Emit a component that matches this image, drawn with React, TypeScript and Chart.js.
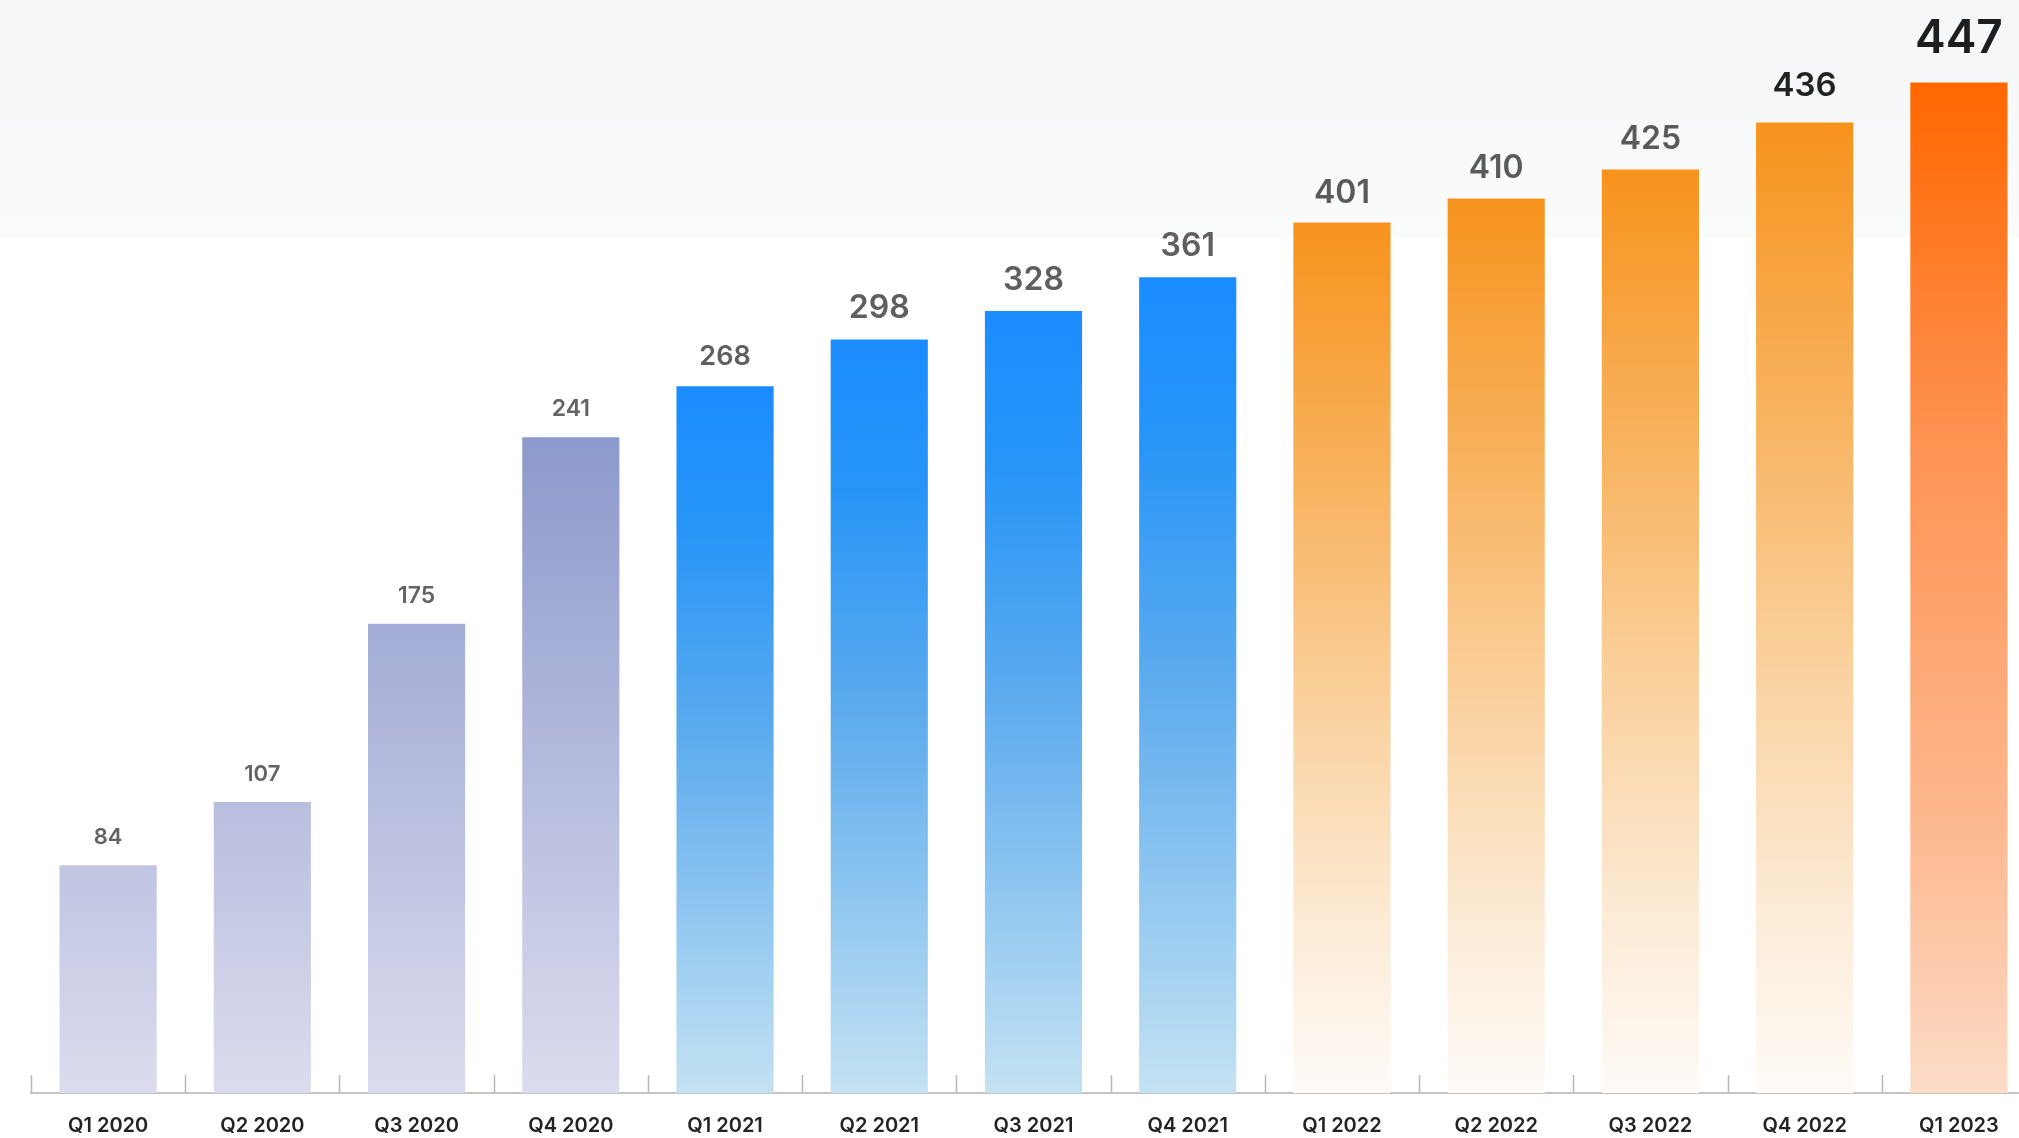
import React, { useEffect, useRef } from "react";
import { Chart, registerables } from "chart.js";

Chart.register(...registerables);

// ---------- data ----------
const categories = [
  "Q1 2020", "Q2 2020", "Q3 2020", "Q4 2020",
  "Q1 2021", "Q2 2021", "Q3 2021", "Q4 2021",
  "Q1 2022", "Q2 2022", "Q3 2022", "Q4 2022",
  "Q1 2023",
];
// numbers printed above the bars
const reportedValues = [84, 107, 175, 241, 268, 298, 328, 361, 401, 410, 425, 436, 447];
// bar heights as drawn in the picture (the picture's bars are not proportional to the printed numbers)
const barHeights = [100.8, 128.7, 207.6, 290.1, 312.7, 333.4, 345.9, 360.9, 385.1, 395.7, 408.5, 429.3, 447];
// colour group of each bar
const colourGroups = [
  "lavender", "lavender", "lavender", "lavender",
  "blue", "blue", "blue", "blue",
  "orange", "orange", "orange", "orange",
  "hot",
];

// ---------- styles ----------
const labelSizes = [22, 22, 23, 23, 27, 32, 32, 32, 32, 32, 32, 33, 46];
const labelColors = [
  "#636363", "#636363", "#636363", "#636363",
  "#5f5f5f", "#5f5f5f", "#5f5f5f", "#5f5f5f",
  "#5a5a5a", "#5a5a5a", "#5a5a5a", "#222222",
  "#1e1e1e",
];
const labelGaps = [21, 21, 21, 21, 21, 21, 21, 21, 20, 21, 21, 27, 30];
const FONT = "Inter, 'Open Sans', sans-serif";

const stopsByGroup: Record<string, [number, string][]> = {
  blue: [[0, "#1a8cff"], [0.2, "#2795f7"], [0.5, "#5eacee"], [1, "#c4e2f3"]],
  orange: [[0, "#f7931d"], [0.3, "#f8b35f"], [0.55, "#fad09c"], [0.8, "#fcead4"], [1, "#fefbf8"]],
  hot: [[0, "#ff6700"], [0.35, "#fe9251"], [0.75, "#fdba92"], [1, "#fcdcc8"]],
};

function barColor(ctx: any) {
  const chart = ctx.chart;
  const area = chart.chartArea;
  if (!area || ctx.dataIndex === undefined) return "#cccccc";
  const yScale = chart.scales.y;
  const i = ctx.dataIndex;
  const group = colourGroups[i];
  const base = yScale.getPixelForValue(0);
  if (group === "lavender") {
    // one gradient shared by the lavender bars, from the tallest one down
    let maxV = 0;
    colourGroups.forEach((g, k) => { if (g === "lavender") maxV = Math.max(maxV, barHeights[k]); });
    const top = yScale.getPixelForValue(maxV);
    const g = chart.ctx.createLinearGradient(0, top, 0, base);
    g.addColorStop(0, "#8c99cc");
    g.addColorStop(1, "#dcdcee");
    return g;
  }
  const top = yScale.getPixelForValue(barHeights[i]);
  const g = chart.ctx.createLinearGradient(0, top, 0, base);
  for (const [o, c] of stopsByGroup[group]) g.addColorStop(o, c);
  return g;
}

const decorPlugin = {
  id: "decor",
  afterDatasetsDraw(chart: any) {
    const { ctx, chartArea, scales } = chart;
    const x = scales.x;
    const meta = chart.getDatasetMeta(0);
    ctx.save();
    // category boundary ticks pointing up from the axis
    const half = (x.getPixelForValue(1) - x.getPixelForValue(0)) / 2;
    ctx.strokeStyle = "#b8b8b8";
    ctx.lineWidth = 1.5;
    for (let i = 0; i <= categories.length; i++) {
      const px = Math.round(x.getPixelForValue(i) - half) + 0.5;
      ctx.beginPath();
      ctx.moveTo(px, chartArea.bottom - 18);
      ctx.lineTo(px, chartArea.bottom);
      ctx.stroke();
    }
    // value labels
    ctx.textAlign = "center";
    ctx.textBaseline = "alphabetic";
    meta.data.forEach((bar: any, i: number) => {
      ctx.font = `600 ${labelSizes[i]}px ${FONT}`;
      ctx.fillStyle = labelColors[i];
      ctx.fillText(String(reportedValues[i]), bar.x, bar.y - labelGaps[i]);
    });
    ctx.restore();
  },
};

export default function App() {
  const ref = useRef<HTMLCanvasElement>(null);
  useEffect(() => {
    if (!ref.current) return;
    const chart = new Chart(ref.current, {
      type: "bar",
      data: {
        labels: categories,
        datasets: [
          {
            data: barHeights,
            backgroundColor: barColor,
            borderWidth: 0,
            categoryPercentage: 1,
            barPercentage: 0.63,
          },
        ],
      },
      options: {
        animation: false,
        responsive: false,
        layout: { padding: { left: 31, right: 0, top: 8, bottom: 0 } },
        plugins: { legend: { display: false }, tooltip: { enabled: false } },
        scales: {
          x: {
            grid: { display: false, drawTicks: false },
            border: { display: true, color: "#c4c4c4", width: 2 },
            ticks: {
              color: "#232323",
              font: { family: FONT, size: 20, weight: "600" },
              padding: 21,
              maxRotation: 0,
              autoSkip: false,
            },
          },
          y: { display: false, min: 0, max: 480 },
        },
      },
      plugins: [decorPlugin],
    });
    return () => chart.destroy();
  }, []);
  return (
    <div
      style={{
        position: "fixed",
        inset: 0,
        overflow: "hidden",
        background:
          "linear-gradient(to bottom, #f5f6f7 0px, #fafbfb 236px, #ffffff 238px, #ffffff 100%)",
      }}
    >
      <canvas
        ref={ref}
        width={2036}
        height={1159}
        style={{ position: "absolute", left: 0, top: 0, width: 2036, height: 1159 }}
      />
    </div>
  );
}
